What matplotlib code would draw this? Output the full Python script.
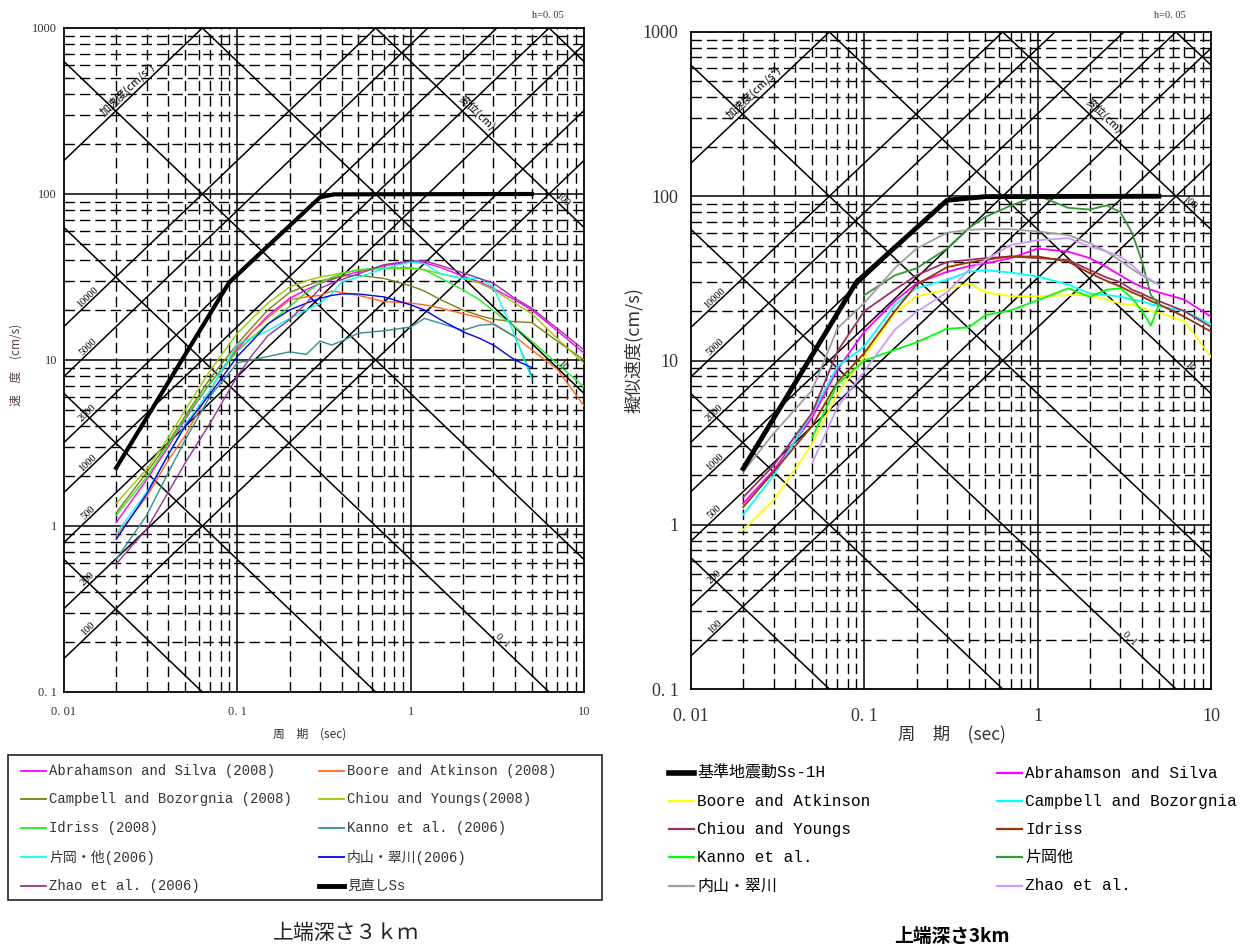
import numpy as np
import matplotlib
matplotlib.use("Agg")
import matplotlib.pyplot as plt
from matplotlib.lines import Line2D
from matplotlib.patches import Rectangle
from matplotlib.ticker import NullLocator

nan = np.nan
W, H = 1244, 946

# ---------------- left chart : 見直しSs ----------------
period_L = [0.02, 0.03, 0.04, 0.05, 0.07, 0.1, 0.12, 0.15, 0.2, 0.25, 0.3, 0.35, 0.4,
            0.5, 0.7, 1.0, 1.2, 1.5, 2.0, 2.5, 3.0, 4.0, 5.0, 7.0, 10.0]
abrahamson_L = [1.05, 1.9, 3.0, 4.4, 7.3, 11.5, 14.5, 18.5, 23.5, 26.5, 29, 30.5, 32,
                34, 37, 39, 38.5, 36, 32, 29.5, 27, 23, 20, 15, 11]
boore_L = [0.87, 1.5, 2.5, 3.5, 6.6, 12, 14.5, 18, 23, 24, 24.5, 26, 25.5,
           24.5, 22.5, 22, 21.5, 20.5, 19, 18, 16.6, 13.8, 11.5, 8.8, 5.3]
campbell_L = [1.2, 2.1, 3.2, 4.6, 7.8, 12.5, 15.5, 20, 25.5, 28, 30, 31, 32,
              32.4, 31, 28, 26, 23, 20, 18.5, 17.6, 17, 16.8, 13, 10]
chiou_L = [1.37, 2.2, 3.4, 5.0, 8.7, 14.5, 17.5, 22, 27.5, 30, 31.6, 32.5, 33.5,
           34.7, 35.5, 35.5, 35, 33, 31, 29, 26.5, 22, 19, 13.5, 9.5]
idriss_L = [1.16, 1.97, 3.1, 4.5, 7.3, 11.3, 13.5, 16.5, 21, 25.5, 29, 31.5, 33,
            35, 36, 36, 35, 31, 26.5, 23, 19.8, 15.8, 13, 9.5, 6.9]
kanno_L = [0.63, 1.16, 2.1, 3.3, 6.1, 9.6, 10.0, 10.5, 11.2, 10.8, 13, 12.3, 13,
           14.5, 15, 15.8, 17.8, 16.6, 15.1, 16.2, 16.4, 13.8, 8, nan, nan]
kataoka_L = [0.9, 1.6, 2.7, 4.1, 6.6, 12.5, 13.5, 15, 17.8, 20, 22, 25, 29.5,
             31.6, 35.5, 39, 38, 33, 31, 31, 27.5, 14, 7.6, nan, nan]
uchiyama_L = [0.83, 1.56, 2.7, 4.0, 6.3, 10.5, 12.8, 16.5, 20, 22, 23.5, 24.5, 25,
              25, 24, 21.5, 20, 17.4, 14.8, 13.5, 12.3, 10, 9, nan, nan]
zhao_L = [0.59, 0.96, 1.6, 2.4, 4.2, 8.0, 10.5, 14, 17.5, 22, 27, 29, 30.5,
          33, 37.5, 39.5, 39.5, 37, 33.5, 31, 29, 23.5, 20.5, 15.5, 11.5]
ss_period_L = [0.02, 0.09, 0.30, 0.36, 5.0]
ss_vel_L = [2.24, 29.5, 95.5, 99.5, 100]

names_L = ["Abrahamson and Silva (2008)", "Boore and Atkinson (2008)",
           "Campbell and Bozorgnia (2008)", "Chiou and Youngs(2008)",
           "Idriss (2008)", "Kanno et al. (2006)",
           "片岡・他(2006)", "内山・翠川(2006)",
           "Zhao et al. (2006)", "見直しSs"]
colors_L = ["#ff00ff", "#ff6a13", "#7f7f10", "#99cc00", "#22ee22",
            "#2f9090", "#00ffff", "#0000ff", "#993399", "black"]

# ---------------- right chart : 基準地震動Ss-1H ----------------
period_R = [0.02, 0.03, 0.05, 0.07, 0.1, 0.15, 0.2, 0.3, 0.4, 0.5, 0.7,
            1.0, 1.5, 2.0, 2.5, 3.0, 3.5, 4.0, 4.5, 5.0, 7.0, 10.0]
abrahamson_R = [1.35, 2.15, 4.5, 8.8, 15, 23, 29.5, 34.7, 37.5, 39, 42,
                48, 46, 42, 37, 33, 30, 28, 27, 26, 23.5, 18.5]
boore_R = [0.93, 1.41, 3.1, 6.3, 10.5, 19.5, 24.6, 27, 29.5, 26, 24.6,
           24.6, 25, 25, 23.5, 22.2, 21.9, 21, 20, 19.5, 17.4, 10.5]
campbell_R = [1.15, 2.0, 4.8, 9.2, 12.2, 21.8, 27.6, 31, 34.7, 35.5, 34.3,
              32.5, 29, 25.6, 25, 24.5, 23.5, 23, 22, 21.5, 20, 16.6]
chiou_R = [1.47, 2.3, 4.8, 11.4, 20, 27, 33, 39.8, 41, 42, 43,
           42, 41, 35.5, 32, 30, 27, 25.5, 24, 23, 20, 16]
idriss_R = [1.28, 2.1, 4.0, 7.4, 11.1, 20, 29, 37, 39.5, 41, 43,
            43, 40, 34, 30.5, 28.2, 26, 24.5, 23, 22, 18.5, 15]
kanno_R = [nan, nan, 3.4, 7.2, 10, 11.6, 12.9, 15.6, 15.9, 18.9, 20.2,
           23.3, 27.5, 24.4, 27, 27.5, 24, 20, 16.3, 22, nan, nan]
kataoka_R = [nan, nan, nan, nan, 25, 33, 36.4, 48, 64, 75, 87.7,
             101, 85, 83, 88, 80, 60, 40, 25, 22, nan, nan]
uchiyama_R = [2.1, 3.6, 6.6, 15.7, 22.4, 36.5, 48, 60, 62.5, 63, 63,
              61, 58, 51.8, 46, 40.6, 36, 33, 30.5, 29, nan, nan]
zhao_R = [nan, nan, 2.37, 5.2, 8.6, 15.4, 19.8, 26, 35.5, 41, 50.6,
          54, 55.6, 49.4, 46, 43, 38, 33.5, 31, 29, nan, nan]
ss_period_R = [0.02, 0.09, 0.30, 0.5, 5.0]
ss_vel_R = [2.2, 30, 94.5, 99.5, 100]

names_R = ["基準地震動Ss-1H", "Abrahamson and Silva", "Boore and Atkinson",
           "Campbell and Bozorgnia", "Chiou and Youngs", "Idriss",
           "Kanno et al.", "片岡他", "内山・翠川", "Zhao et al."]
colors_R = ["black", "#ff00ff", "#ffff00", "#00ffff", "#993366", "#993300",
            "#00ff00", "#339933", "#a0a0a0", "#cc99ff"]

# tripartite guide lines
acc_values = [100, 200, 500, 1000, 2000, 5000, 10000, 100000]
acc_labels = ["100", "200", "500", "1000", "2000", "5000", "10000"]
disp_values = [0.001, 0.01, 0.1, 1, 10, 100, 1000]
disp_label_values = [0.1, 1, 10, 100]
disp_labels = ["0. 1", "1", "10", "100"]

SERIF = ["Liberation Serif", "Noto Sans CJK JP"]
MONO = ["Liberation Mono", "Noto Sans CJK JP"]
JP = ["Noto Sans CJK JP", "DejaVu Sans"]
plt.rcParams["font.family"] = SERIF


def fx(px):
    return px / W


def fy(py):
    return 1 - py / H


def tripartite(ax, tick_size, xpad, ypad):
    ax.set_xscale("log")
    ax.set_yscale("log")
    ax.set_xlim(0.01, 10)
    ax.set_ylim(0.1, 1000)
    dash = dict(color="black", lw=1.0, dashes=(7.5, 3.6), zorder=1)
    solid = dict(color="black", lw=1.1, zorder=1)
    for e in range(-2, 1):
        for k in range(2, 10):
            ax.axvline(k * 10.0 ** e, **dash)
    for e in range(-1, 3):
        for k in range(2, 10):
            ax.axhline(k * 10.0 ** e, **dash)
    for v in [0.1, 1]:
        ax.axvline(v, **solid)
    for v in [1, 10, 100]:
        ax.axhline(v, **solid)
    t = np.array([1e-3, 1e2])
    for a in acc_values:
        ax.plot(t, a * t / (2 * np.pi), **solid)
    for d in disp_values:
        ax.plot(t, 2 * np.pi * d / t, **solid)

    ax.set_xticks([0.01, 0.1, 1, 10])
    ax.set_xticklabels(["0. 01", "0. 1", "1", "10"])
    ax.set_yticks([0.1, 1, 10, 100, 1000])
    ax.set_yticklabels(["0. 1", "1", "10", "100", "1000"])
    ax.xaxis.set_minor_locator(NullLocator())
    ax.yaxis.set_minor_locator(NullLocator())
    ax.tick_params(axis="x", length=0, pad=xpad, labelsize=tick_size, labelcolor="#333333")
    ax.tick_params(axis="y", length=0, pad=ypad, labelsize=tick_size, labelcolor="#333333")
    for s in ax.spines.values():
        s.set_linewidth(1.3)

    # rotation of the diagonals on screen
    p0 = ax.transData.transform((0.01, 1))
    p1 = ax.transData.transform((0.1, 10))
    ang = np.degrees(np.arctan2(p1[1] - p0[1], p1[0] - p0[0]))

    for a, lab in zip(acc_values, acc_labels):
        tt = 0.0137
        ax.text(tt, a * tt / (2 * np.pi) * 1.1, lab, rotation=ang, fontsize=7.5,
                ha="center", va="center", rotation_mode="anchor", zorder=5)
    tpos = {0.1: 3.4, 1: 7.6, 10: 7.5, 100: 7.5}
    for d, lab in zip(disp_label_values, disp_labels):
        tt = tpos[d]
        ax.text(tt, 2 * np.pi * d / tt * 1.1, lab, rotation=-ang, fontsize=7.5,
                ha="center", va="center", rotation_mode="anchor", zorder=5)
    tt = 0.023
    ax.text(tt, 1e5 * tt / (2 * np.pi) * 1.18, "加速度(cm/s²)", rotation=ang,
            fontsize=8, family=JP, ha="center", va="center",
            rotation_mode="anchor", zorder=5)
    tt = 2.4
    ax.text(tt, 2 * np.pi * 100 / tt * 1.18, "変位(cm)", rotation=-ang,
            fontsize=8, family=JP, ha="center", va="center",
            rotation_mode="anchor", zorder=5)


fig = plt.figure(figsize=(W / 100, H / 100), dpi=100)

# ---------- left ----------
axL = fig.add_axes([fx(64), fy(692), 520 / W, 664 / H])
tripartite(axL, 9, 10, 5)
series_L = [abrahamson_L, boore_L, campbell_L, chiou_L, idriss_L,
            kanno_L, kataoka_L, uchiyama_L, zhao_L]
for vals, col in zip(series_L, colors_L[:-1]):
    axL.plot(period_L, vals, color=col, lw=1.0, zorder=3)
axL.plot(ss_period_L, ss_vel_L, color="black", lw=3.0, zorder=4,
         solid_joinstyle="miter")

fig.text(fx(548), fy(15), "h=0. 05", fontsize=7.5, ha="center", va="center", color="#333333")
fig.text(fx(310), fy(734), "周　期　(sec)", fontsize=8.5, family=JP, ha="center",
         va="center", color="#333333")
fig.text(fx(16), fy(365), "速　度　(cm/s)", fontsize=8.5, family=JP, rotation=90,
         ha="center", va="center", color="#5a4040")

# ---------- right ----------
axR = fig.add_axes([fx(691), fy(689), 520 / W, 657 / H])
tripartite(axR, 13, 14, 9)
series_R = [abrahamson_R, boore_R, campbell_R, chiou_R, idriss_R,
            kanno_R, kataoka_R, uchiyama_R, zhao_R]
for vals, col in zip(series_R, colors_R[1:]):
    axR.plot(period_R, vals, color=col, lw=1.3, zorder=3)
axR.plot(ss_period_R, ss_vel_R, color="black", lw=3.5, zorder=4)

fig.text(fx(1170), fy(15), "h=0. 05", fontsize=7.5, ha="center", va="center", color="#333333")
fig.text(fx(952), fy(734), "周　期　(sec)", fontsize=12.5, family=JP, ha="center",
         va="center", color="#333333")
fig.text(fx(634), fy(350), "擬似速度(cm/s)", fontsize=13, family=JP, rotation=90,
         ha="center", va="center", color="#333333")

# ---------- left legend (boxed) ----------
fig.add_artist(Rectangle((fx(8), fy(900)), (602 - 8) / W, (900 - 755) / H,
                         transform=fig.transFigure, fill=False, ec="#222222", lw=1.2))
rows_L = [771, 799, 828, 857, 886]
for i, (name, col) in enumerate(zip(names_L, colors_L)):
    x0 = 21 if i % 2 == 0 else 319
    y0 = rows_L[i // 2]
    lw = 3.5 if col == "black" else 1.3
    fig.add_artist(Line2D([fx(x0), fx(x0 + 25)], [fy(y0), fy(y0)], color=col, lw=lw))
    fig.text(fx(x0 + 28), fy(y0), name, fontsize=10, family=MONO, ha="left",
             va="center", color="#333333")
fig.text(fx(346), fy(933), "上端深さ３ｋｍ", fontsize=15, family=JP, ha="center",
         va="center", color="#222222")

# ---------- right legend ----------
rows_R = [773, 801, 829, 857, 886]
for i, (name, col) in enumerate(zip(names_R, colors_R)):
    x0 = 669 if i % 2 == 0 else 997
    y0 = rows_R[i // 2]
    lw = 4.0 if col == "black" else 1.6
    fig.add_artist(Line2D([fx(x0), fx(x0 + 25)], [fy(y0), fy(y0)], color=col, lw=lw))
    fig.text(fx(x0 + 28), fy(y0), name, fontsize=11.5, family=MONO, ha="left",
             va="center", color="black")
fig.text(fx(952), fy(936), "上端深さ3km", fontsize=13.5, family=JP, weight="bold",
         ha="center", va="center", color="black")

fig.savefig("out.png", dpi=100)
